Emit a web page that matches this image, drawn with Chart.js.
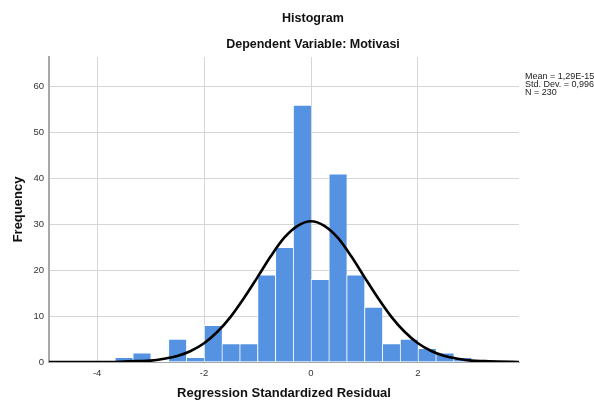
<!DOCTYPE html>
<html>
<head>
<meta charset="utf-8">
<script src="https://cdn.jsdelivr.net/npm/chart.js@4.4.1/dist/chart.umd.min.js"></script>
<style>
  html, body { margin: 0; padding: 0; background: #fff; }
  #wrap { width: 594px; height: 403px; }
</style>
</head>
<body>
<div id="wrap"><canvas id="histChart" width="594" height="403"></canvas></div>
<script>
// bin centres (width 1/3) and counts
const binCenters = [-3.5, -3.167, -2.833, -2.5, -2.167, -1.833, -1.5, -1.167, -0.833, -0.5,
  -0.167, 0.167, 0.5, 0.833, 1.167, 1.5, 1.833, 2.167, 2.5, 2.833];
const frequencies = [1, 2, 0, 5, 1, 8, 4, 4, 19, 25, 56, 18, 41, 19, 12, 4, 5, 3, 2, 1];

// normal curve
const curveX = [-4.9, -4.25, -3.75, -3.5, -3.25, -3, -2.75, -2.5, -2.25, -2, -1.75, -1.5, -1.25, -1,
  -0.75, -0.5, -0.25, 0, 0.25, 0.5, 0.75, 1, 1.25, 1.5, 1.75, 2, 2.25, 2.5, 2.75, 3, 3.25, 3.5, 3.89];
const curveY = [0, 0, 0, 0.1, 0.2, 0.3, 0.7, 1.3, 2.4, 4.1, 6.6, 9.9, 14, 18.5,
  23.1, 27.1, 29.7, 30.7, 29.7, 27.1, 23.1, 18.5, 14, 9.9, 6.6, 4.1, 2.4, 1.3, 0.7, 0.3, 0.2, 0.1, 0];

const xTicks = [-4, -2, 0, 2];
const yTicks = [0, 10, 20, 30, 40, 50, 60];
const statsLines = ["Mean = 1,29E-15", "Std. Dev. = 0,996", "N = 230"];

const FONT = "'Liberation Sans', Arial, sans-serif";

// titles, axis titles and the stats note
const textPlugin = {
  id: "spssText",
  afterDraw(chart) {
    const ctx = chart.ctx;
    const area = chart.chartArea;
    ctx.save();
    ctx.fillStyle = "#111";
    ctx.textAlign = "center";
    ctx.textBaseline = "middle";
    ctx.font = "bold 12.5px " + FONT;
    ctx.fillText("Histogram", 313, 19);
    ctx.fillText("Dependent Variable: Motivasi", 313, 45);

    ctx.font = "bold 13px " + FONT;
    ctx.fillText("Regression Standardized Residual", (area.left + area.right) / 2, 393);
    ctx.save();
    ctx.translate(18, (area.top + area.bottom) / 2);
    ctx.rotate(-Math.PI / 2);
    ctx.fillText("Frequency", 0, 0);
    ctx.restore();

    ctx.font = "9px " + FONT;
    ctx.textAlign = "left";
    ctx.fillStyle = "#222";
    statsLines.forEach((line, i) => ctx.fillText(line, 525, 77 + i * 8));
    ctx.restore();
  },
};

const ctx = document.getElementById("histChart").getContext("2d");
new Chart(ctx, {
  type: "bar",
  data: {
    datasets: [
      {
        type: "line",
        data: curveX.map((x, i) => ({ x: x, y: curveY[i] })),
        borderColor: "#000",
        borderWidth: 2.6,
        pointRadius: 0,
        cubicInterpolationMode: "monotone",
        fill: false,
        order: 0,
      },
      {
        type: "bar",
        data: binCenters.map((x, i) => ({ x: x, y: frequencies[i] })),
        backgroundColor: "#5593e2",
        borderColor: "rgba(255,255,255,0.75)",
        borderWidth: { left: 1, right: 0, top: 1, bottom: 0 },
        borderSkipped: false,
        barPercentage: 1,
        categoryPercentage: 1,
        order: 1,
      },
    ],
  },
  options: {
    responsive: false,
    animation: false,
    layout: { padding: { left: 0, right: 75, top: 57, bottom: 0 } },
    plugins: {
      legend: { display: false },
      tooltip: { enabled: false },
    },
    scales: {
      x: {
        type: "linear",
        min: -4.9,
        max: 3.89,
        offset: false,
        afterBuildTicks: (s) => { s.ticks = xTicks.map((v) => ({ value: v })); },
        afterFit: (s) => { s.height = 41; },
        grid: { color: "#d6d6d6", lineWidth: 1, drawTicks: false, offset: false },
        border: { color: "#a8a8a8", width: 1 },
        ticks: { color: "#333", padding: 6, font: { family: FONT, size: 9.5 } },
      },
      y: {
        min: 0,
        max: 66.5,
        afterBuildTicks: (s) => { s.ticks = yTicks.map((v) => ({ value: v })); },
        afterFit: (s) => { s.width = 49; },
        grid: { color: "#d6d6d6", lineWidth: 1, drawTicks: false },
        border: { color: "#a8a8a8", width: 2 },
        ticks: { color: "#333", padding: 5, font: { family: FONT, size: 9.5 } },
      },
    },
  },
  plugins: [textPlugin],
});
</script>
</body>
</html>
